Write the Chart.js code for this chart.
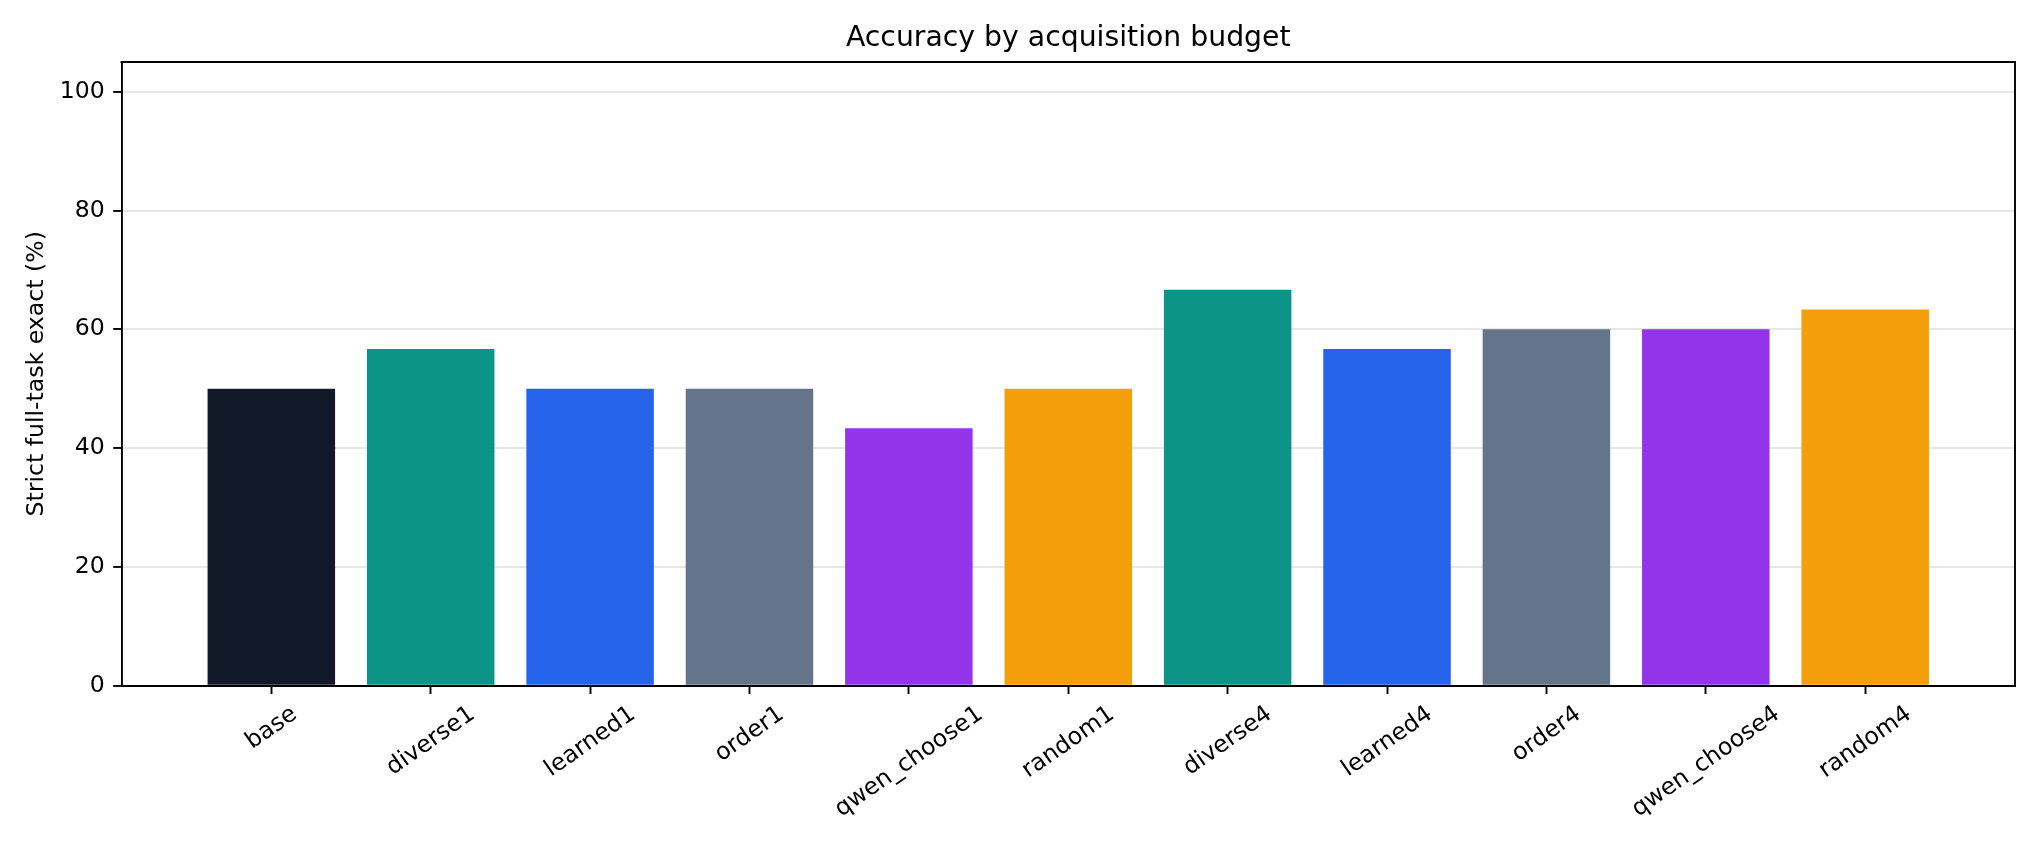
<!DOCTYPE html>
<html>
<head>
<meta charset="utf-8">
<script src="https://cdn.jsdelivr.net/npm/chart.js@4.4.1/dist/chart.umd.min.js"></script>
<style>
  html, body { margin: 0; padding: 0; background: #fff; }
  #wrap { width: 2040px; height: 850px; }
</style>
</head>
<body>
<div id="wrap"><canvas id="accCanvas"></canvas></div>
<script>
// values (30 tasks -> steps of 3.33)
const categories = ['base', 'diverse1', 'learned1', 'order1', 'qwen_choose1', 'random1',
                    'diverse4', 'learned4', 'order4', 'qwen_choose4', 'random4'];
const accuracy = [50, 56.67, 50, 50, 43.33, 50, 66.67, 56.67, 60, 60, 63.33];
const yTicks = [0, 20, 40, 60, 80, 100];

// one colour per acquisition method
const familyColors = {
    base: '#111827',
    diverse: '#0d9488',
    learned: '#2563eb',
    order: '#64748b',
    qwen_choose: '#9333ea',
    random: '#f59e0b'
};
function colorFor(name) {
    return familyColors[name.replace(/\d+$/, '')];
}

const tickFont = 23.6;
const tickLen = 8.3;
const lineW = 1.9;
const xPad = 0.4 + 0.05 * (categories.length - 1 + 0.8);

Chart.defaults.font.family = '"DejaVu Sans", sans-serif';
Chart.defaults.color = '#000';

// box on top/right + centred rotated category labels (matplotlib style)
const framePlugin = {
    id: 'frameAndLabels',
    afterDraw(chart) {
        const { ctx, chartArea: a } = chart;
        const xs = chart.scales.x;
        ctx.save();
        ctx.strokeStyle = '#000';
        ctx.lineWidth = lineW;
        ctx.lineCap = 'square';
        ctx.beginPath();
        ctx.moveTo(a.left, a.top);
        ctx.lineTo(a.right, a.top);
        ctx.lineTo(a.right, a.bottom);
        ctx.stroke();

        ctx.font = tickFont + 'px "DejaVu Sans"';
        ctx.fillStyle = '#000';
        const rot = 35 * Math.PI / 180;
        const lineH = tickFont * 0.97;
        const top = a.bottom + tickLen + tickLen;
        categories.forEach(function (c, i) {
            const w = ctx.measureText(c).width;
            const bh = w * Math.sin(rot) + lineH * Math.cos(rot);
            ctx.save();
            ctx.translate(xs.getPixelForValue(i), top + bh / 2);
            ctx.rotate(-rot);
            ctx.textAlign = 'center';
            ctx.textBaseline = 'alphabetic';
            ctx.fillText(c, 0, tickFont * 0.276);
            ctx.restore();
        });
        ctx.restore();
    }
};

const ctx0 = document.getElementById('accCanvas');

const accChart = new Chart(ctx0, {
    type: 'bar',
    data: {
        datasets: [{
            label: 'Strict full-task exact (%)',
            data: accuracy.map(function (v, i) { return { x: i, y: v }; }),
            backgroundColor: categories.map(colorFor),
            borderWidth: 0,
            barPercentage: 0.8,
            categoryPercentage: 1.0
        }]
    },
    options: {
        responsive: true,
        maintainAspectRatio: false,
        devicePixelRatio: 1,
        animation: false,
        layout: { padding: { top: 0, left: 0, right: 25, bottom: 0 } },
        plugins: {
            legend: { display: false },
            tooltip: { enabled: false },
            title: {
                display: true,
                fullSize: false,   // centre over the plot area, not the canvas
                text: 'Accuracy by acquisition budget',
                color: '#000',
                font: { size: 28.3, weight: 'normal' },
                padding: { top: 21.5, bottom: 6.5 }
            }
        },
        scales: {
            x: {
                type: 'linear',
                min: -xPad,
                max: categories.length - 1 + xPad,
                offset: false,
                z: 1,
                afterBuildTicks: function (scale) {
                    scale.ticks = categories.map(function (c, i) { return { value: i }; });
                },
                afterFit: function (scale) { scale.height = 164.3; },
                ticks: { display: false },
                grid: {
                    display: true,
                    offset: false,
                    drawOnChartArea: false,
                    drawTicks: true,
                    tickLength: tickLen,
                    tickWidth: lineW,
                    tickColor: '#000'
                },
                border: { display: true, color: '#000', width: lineW }
            },
            y: {
                min: 0,
                max: 105,
                z: 1,
                afterBuildTicks: function (scale) {
                    scale.ticks = yTicks.map(function (v) { return { value: v }; });
                },
                afterFit: function (scale) { scale.width = 121.5; },
                ticks: {
                    color: '#000',
                    padding: 8.5,
                    font: { size: tickFont }
                },
                grid: {
                    color: 'rgba(176,176,176,0.3)',
                    lineWidth: lineW,
                    drawTicks: true,
                    tickLength: tickLen,
                    tickWidth: lineW,
                    tickColor: '#000'
                },
                border: { display: true, color: '#000', width: lineW },
                title: {
                    display: true,
                    text: 'Strict full-task exact (%)',
                    color: '#000',
                    font: { size: tickFont },
                    padding: { top: 23, bottom: 0 }
                }
            }
        }
    },
    plugins: [framePlugin]
});
</script>
</body>
</html>
